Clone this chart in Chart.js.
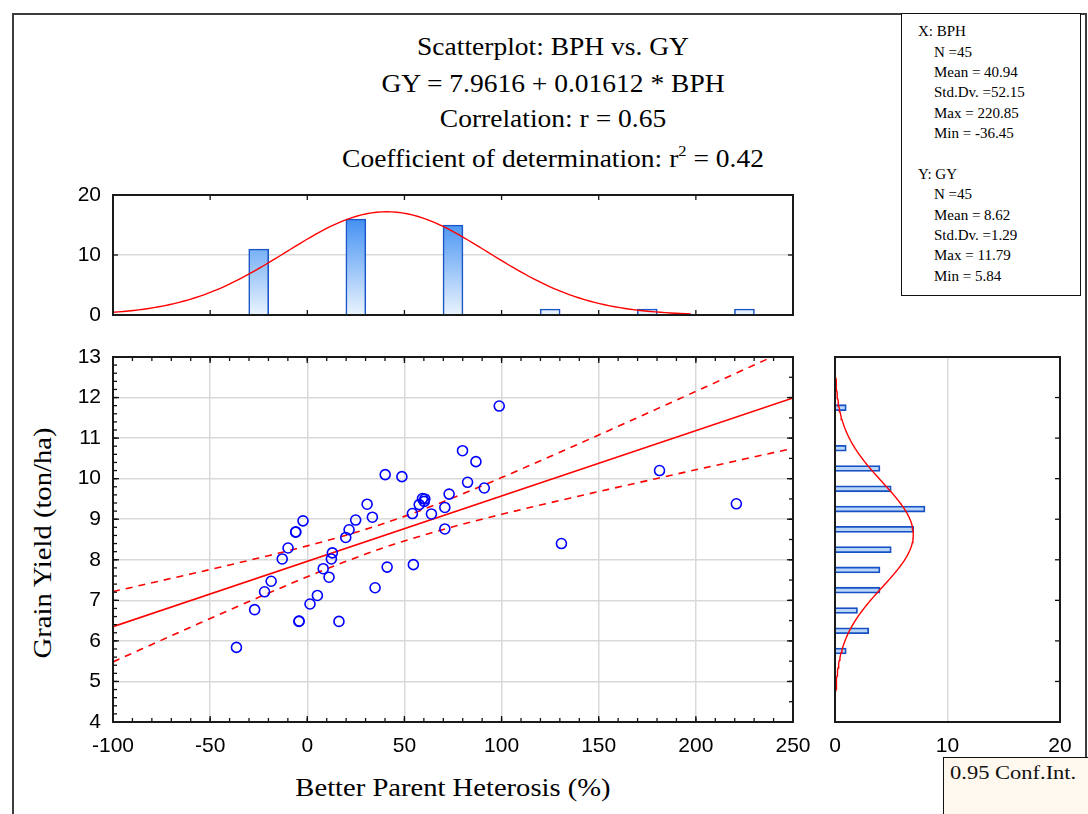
<!DOCTYPE html>
<html>
<head>
<meta charset="utf-8">
<script src="https://cdn.jsdelivr.net/npm/chart.js@4.4.1/dist/chart.umd.min.js"></script>
<style>
html,body{margin:0;padding:0;background:#fff;}
#wrap{position:relative;width:1088px;height:814px;overflow:hidden;background:#fff;}
canvas{position:absolute;left:0;top:0;}
.serif{position:absolute;font-family:"Liberation Serif","Times New Roman",serif;color:#000;white-space:nowrap;line-height:1;}
.frame{position:absolute;left:12px;top:13px;width:1075px;height:820px;border:2px solid #3c3c3c;box-sizing:border-box;}
.stats{position:absolute;left:901px;top:13px;width:180px;height:283px;border:1.5px solid #111;box-sizing:border-box;background:#fff;}
.legendbox{position:absolute;left:943px;top:757px;width:160px;height:70px;border:1.5px solid #111;box-sizing:border-box;background:#fff8ee;}
</style>
</head>
<body>
<div id="wrap">
  <div class="frame"></div>
  <div class="stats"></div>
  <div id="statsText"></div>
  <div class="legendbox"></div>
  <div class="serif" style="left:950px;top:764px;font-size:18px;transform:scaleX(1.25);transform-origin:0 0;color:#111;">0.95 Conf.Int.</div>

  <div class="serif" style="left:553px;top:34px;font-size:25px;transform:translateX(-50%) scaleX(1.1);">Scatterplot: BPH vs. GY</div>
  <div class="serif" style="left:553px;top:71px;font-size:25px;transform:translateX(-50%) scaleX(1.1);">GY = 7.9616 + 0.01612 * BPH</div>
  <div class="serif" style="left:553px;top:106px;font-size:25px;transform:translateX(-50%) scaleX(1.1);">Correlation: r = 0.65</div>
  <div class="serif" style="left:553px;top:146px;font-size:25px;transform:translateX(-50%) scaleX(1.1);">Coefficient of determination: r<span style="font-size:15px;position:relative;top:-11px;">2</span> = 0.42</div>

  <div class="serif" style="left:453px;top:775px;font-size:26px;transform:translateX(-50%) scaleX(1.1);">Better Parent Heterosis (%)</div>
  <div class="serif" style="left:43px;top:543px;font-size:26px;transform:translate(-50%,-50%) rotate(-90deg) scaleX(1.1);">Grain Yield (ton/ha)</div>

  <canvas id="cTop" width="1088" height="814"></canvas>
  <canvas id="cMain" width="1088" height="814"></canvas>
  <canvas id="cRight" width="1088" height="814"></canvas>
</div>
<script>
// ---------------- data ----------------
const bph = [-36.45, -27.1, -22.0, -18.6, -12.9, -9.9, -6.0, -2.2, -4.3, -4.2,
             -5.9, 1.4, 5.2, 8.2, 11.2, 12.4, 12.9, 16.3, 19.8, 21.5,
             24.9, 30.8, 33.5, 34.9, 40.1, 41.1, 48.7, 54.1, 54.6, 57.6,
             59.3, 60.5, 60.2, 63.9, 70.8, 70.8, 73.0, 79.9, 82.5, 86.8,
             91.1, 98.8, 130.8, 181.3, 220.85];
const gy  = [5.84, 6.77, 7.21, 7.47, 8.02, 8.29, 8.68, 8.96, 6.48, 6.49,
             8.69, 6.91, 7.12, 7.78, 7.57, 8.02, 8.17, 6.48, 8.55, 8.74,
             8.98, 9.37, 9.05, 7.31, 10.10, 7.82, 10.05, 9.14, 7.88, 9.36,
             9.51, 9.50, 9.44, 9.13, 9.29, 8.76, 9.62, 10.69, 9.91, 10.42,
             9.77, 11.79, 8.40, 10.20, 9.38];

const histXCenters = [-25, 25, 75, 125, 175, 225];
const histXCounts  = [11, 16, 15, 1, 1, 1];
const histYCenters = [5.75, 6.25, 6.75, 7.25, 7.75, 8.25, 8.75, 9.25, 9.75, 10.25, 10.75, 11.25, 11.75];
const histYCounts  = [1, 3, 2, 4, 4, 5, 7, 8, 5, 4, 1, 0, 1];

const xTickLabels = ['-100', '-50', '0', '50', '100', '150', '200', '250'];
const yTickLabels = ['4', '5', '6', '7', '8', '9', '10', '11', '12', '13'];
const topHistTickLabels = ['0', '10', '20'];
const rightHistTickLabels = ['0', '10', '20'];

// summary statistics printed on the chart
const nObs = 45;
const meanX = 40.94, sdX = 52.15, maxX = 220.85, minX = -36.45;
const meanY = 8.62, sdY = 1.29, maxY = 11.79, minY = 5.84;
const intercept = 7.9616, slope = 0.01612, corrR = 0.65;
const tCrit = 2.0167;
const binWidthX = 50, binWidthY = 0.5;

// ---------------- stats box text ----------------
(function(){
  const lines = [
    ['X: BPH', 918], ['N =' + nObs, 934], ['Mean = ' + meanX.toFixed(2), 934], ['Std.Dv. =' + sdX.toFixed(2), 934],
    ['Max = ' + maxX.toFixed(2), 934], ['Min = ' + minX.toFixed(2), 934],
    ['Y: GY', 918], ['N =' + nObs, 934], ['Mean = ' + meanY.toFixed(2), 934], ['Std.Dv. =' + sdY.toFixed(2), 934],
    ['Max = ' + maxY.toFixed(2), 934], ['Min = ' + minY.toFixed(2), 934]
  ];
  const host = document.getElementById('statsText');
  lines.forEach((l, i) => {
    const base = (i < 6 ? 36.7 + i * 20.4 : 179.3 + (i - 6) * 20.4);
    const d = document.createElement('div');
    d.className = 'serif';
    d.style.fontSize = '15px';
    d.style.left = l[1] + 'px';
    d.style.top = (base - 12.6) + 'px';
    d.textContent = l[0];
    host.appendChild(d);
  });
})();

// ---------------- derived fitted curves ----------------
const resSE = sdY * Math.sqrt(1 - corrR * corrR) * Math.sqrt((nObs - 1) / (nObs - 2));
const sxx = (nObs - 1) * sdX * sdX;
const fitLine = [-100, 250].map(x => ({x, y: intercept + slope * x}));
const bandUpper = [], bandLower = [];
for (let i = 0; i <= 70; i++) {
  const x = -100 + i * 5;
  const yh = intercept + slope * x;
  const h = tCrit * resSE * Math.sqrt(1 / nObs + (x - meanX) * (x - meanX) / sxx);
  bandUpper.push({x, y: yh + h});
  bandLower.push({x, y: yh - h});
}
function normCount(v, m, s, w) {
  const z = (v - m) / s;
  return nObs * w / (s * Math.sqrt(2 * Math.PI)) * Math.exp(-0.5 * z * z);
}
const topCurve = [];
for (let i = 0; i <= 120; i++) {
  const x = meanX - 3 * sdX + i * (6 * sdX / 120);
  topCurve.push({x, y: normCount(x, meanX, sdX, binWidthX)});
}
const rightCurve = [];
for (let i = 0; i <= 120; i++) {
  const y = meanY - 3 * sdY + i * (6 * sdY / 120);
  rightCurve.push({x: normCount(y, meanY, sdY, binWidthY), y});
}

// ---------------- plugin: black frame + inward ticks ----------------
const frameTicks = {
  id: 'frameTicks',
  afterDraw(chart, args, opts) {
    const {ctx, chartArea: a, scales} = chart;
    const sx = scales.x, sy = scales.y;
    ctx.save();
    ctx.strokeStyle = '#111';
    ctx.lineWidth = 1.3;
    const seg = (x1, y1, x2, y2) => { ctx.beginPath(); ctx.moveTo(x1, y1); ctx.lineTo(x2, y2); ctx.stroke(); };
    (opts.x || []).forEach(t => {
      for (let i = Math.ceil(sx.min / t.step - 1e-9); i * t.step <= sx.max + 1e-9; i++) {
        const px = sx.getPixelForValue(i * t.step);
        if (t.sides.includes('top')) seg(px, a.top, px, a.top + t.len);
        if (t.sides.includes('bottom')) seg(px, a.bottom, px, a.bottom - t.len);
      }
    });
    (opts.y || []).forEach(t => {
      for (let i = Math.ceil(sy.min / t.step - 1e-9); i * t.step <= sy.max + 1e-9; i++) {
        const py = sy.getPixelForValue(i * t.step);
        if (t.sides.includes('left')) seg(a.left, py, a.left + t.len, py);
        if (t.sides.includes('right')) seg(a.right, py, a.right - t.len, py);
      }
    });
    ctx.lineWidth = 2;
    ctx.strokeStyle = '#1a1a1a';
    ctx.strokeRect(a.left, a.top, a.right - a.left, a.bottom - a.top);
    ctx.restore();
  }
};

Chart.defaults.font.family = '"Liberation Sans", Arial, sans-serif';
Chart.defaults.font.size = 21;
Chart.defaults.color = '#000';

const W = 1088, H = 814;
function pad(left, top, right, bottom, yW, xH) {
  return {left: left - yW, top: top, right: W - right, bottom: H - bottom - xH};
}
const fixW = w => (s => { s.width = w; });
const fixH = h => (s => { s.height = h; });
const gridCol = '#d9d9d9';

// ---------------- main scatter ----------------
new Chart(document.getElementById('cMain'), {
  type: 'scatter',
  data: {
    datasets: [
      {
        label: 'BPH vs GY',
        data: bph.map((x, i) => ({x, y: gy[i]})),
        pointStyle: 'circle', pointRadius: 5, pointBorderWidth: 1.6,
        borderColor: '#0000ff', backgroundColor: 'rgba(0,0,0,0)', order: 0
      },
      {
        type: 'line', label: 'fit', data: fitLine, borderColor: '#ff0000', borderWidth: 1.6,
        pointRadius: 0, fill: false, order: 1
      },
      {
        type: 'line', label: 'upper', data: bandUpper, borderColor: '#ff0000', borderWidth: 1.6,
        borderDash: [7, 6], pointRadius: 0, fill: false, order: 1
      },
      {
        type: 'line', label: 'lower', data: bandLower, borderColor: '#ff0000', borderWidth: 1.6,
        borderDash: [7, 6], pointRadius: 0, fill: false, order: 1
      }
    ]
  },
  options: {
    responsive: false, animation: false, events: [],
    layout: {padding: pad(113, 357, 793, 722, 60, 40)},
    plugins: {
      legend: {display: false}, tooltip: {enabled: false},
      frameTicks: {
        x: [{step: 50, len: 6, sides: ['top', 'bottom']}, {step: 10, len: 4, sides: ['top', 'bottom']}],
        y: [{step: 1, len: 6, sides: ['left', 'right']}, {step: 0.2, len: 4, sides: ['left']}, {step: 0.5, len: 4, sides: ['right']}]
      }
    },
    scales: {
      x: {
        type: 'linear', min: -100, max: 250, afterFit: fixH(40),
        grid: {color: gridCol, lineWidth: 1.5, drawTicks: false},
        border: {display: false},
        ticks: {stepSize: 50, padding: 12, maxRotation: 0, callback: (v, i) => xTickLabels[i]}
      },
      y: {
        type: 'linear', min: 4, max: 13, afterFit: fixW(60),
        grid: {color: gridCol, lineWidth: 1.5, drawTicks: false},
        border: {display: false},
        ticks: {stepSize: 1, padding: 12, callback: (v, i) => yTickLabels[i]}
      }
    }
  },
  plugins: [frameTicks]
});

// ---------------- top histogram (X) ----------------
new Chart(document.getElementById('cTop'), {
  type: 'bar',
  data: {
    datasets: [
      {
        type: 'line', label: 'normal', data: topCurve, borderColor: '#ff0000', borderWidth: 1.4,
        pointRadius: 0, fill: false, order: 0
      },
      {
        label: 'BPH count', data: histXCenters.map((x, i) => ({x, y: histXCounts[i]})),
        barThickness: 20, borderColor: '#1a56c8', borderWidth: 1.6, borderSkipped: 'bottom', order: 1,
        backgroundColor: (c) => {
          const a = c.chart.chartArea;
          if (!a) return '#5aa0f0';
          const g = c.chart.ctx.createLinearGradient(0, a.top, 0, a.bottom);
          g.addColorStop(0, '#1a78ef');
          g.addColorStop(1, '#eaf4fe');
          return g;
        }
      }
    ]
  },
  options: {
    responsive: false, animation: false, events: [],
    layout: {padding: pad(113, 195, 793, 315, 60, 10)},
    plugins: {
      legend: {display: false}, tooltip: {enabled: false},
      frameTicks: {
        x: [{step: 50, len: 5, sides: ['top', 'bottom']}],
        y: [{step: 10, len: 5, sides: ['left', 'right']}]
      }
    },
    scales: {
      x: {
        type: 'linear', min: -100, max: 250, offset: false, afterFit: fixH(10),
        grid: {display: false}, border: {display: false},
        ticks: {display: false, stepSize: 50}
      },
      y: {
        type: 'linear', min: 0, max: 20, afterFit: fixW(60),
        grid: {color: c => (c.tick && c.tick.value === 10 ? gridCol : 'rgba(0,0,0,0)'), lineWidth: 1.5, drawTicks: false},
        border: {display: false},
        ticks: {stepSize: 10, padding: 12, callback: (v, i) => topHistTickLabels[i]}
      }
    }
  },
  plugins: [frameTicks]
});

// ---------------- right histogram (Y) ----------------
new Chart(document.getElementById('cRight'), {
  type: 'bar',
  data: {
    datasets: [
      {
        type: 'line', label: 'normal', data: rightCurve, indexAxis: 'y', borderColor: '#ff0000', borderWidth: 1.4,
        pointRadius: 0, fill: false, order: 0
      },
      {
        label: 'GY count', data: histYCenters.map((y, i) => ({x: histYCounts[i], y})),
        barThickness: 6, borderColor: '#1650c4', borderWidth: 1.8, borderSkipped: 'left', order: 1,
        backgroundColor: '#b9d6f8'
      }
    ]
  },
  options: {
    indexAxis: 'y',
    responsive: false, animation: false, events: [],
    layout: {padding: pad(835, 357, 1060, 722, 10, 40)},
    plugins: {
      legend: {display: false}, tooltip: {enabled: false},
      frameTicks: {
        y: [{step: 1, len: 5, sides: ['right']}]
      }
    },
    scales: {
      x: {
        type: 'linear', min: 0, max: 20, afterFit: fixH(40),
        grid: {color: c => (c.tick && c.tick.value === 10 ? gridCol : 'rgba(0,0,0,0)'), lineWidth: 1.5, drawTicks: false},
        border: {display: false},
        ticks: {stepSize: 10, padding: 12, callback: (v, i) => rightHistTickLabels[i]}
      },
      y: {
        type: 'linear', min: 4, max: 13, offset: false, afterFit: fixW(10),
        grid: {display: false}, border: {display: false},
        ticks: {display: false, stepSize: 1}
      }
    }
  },
  plugins: [frameTicks]
});
</script>
</body>
</html>
